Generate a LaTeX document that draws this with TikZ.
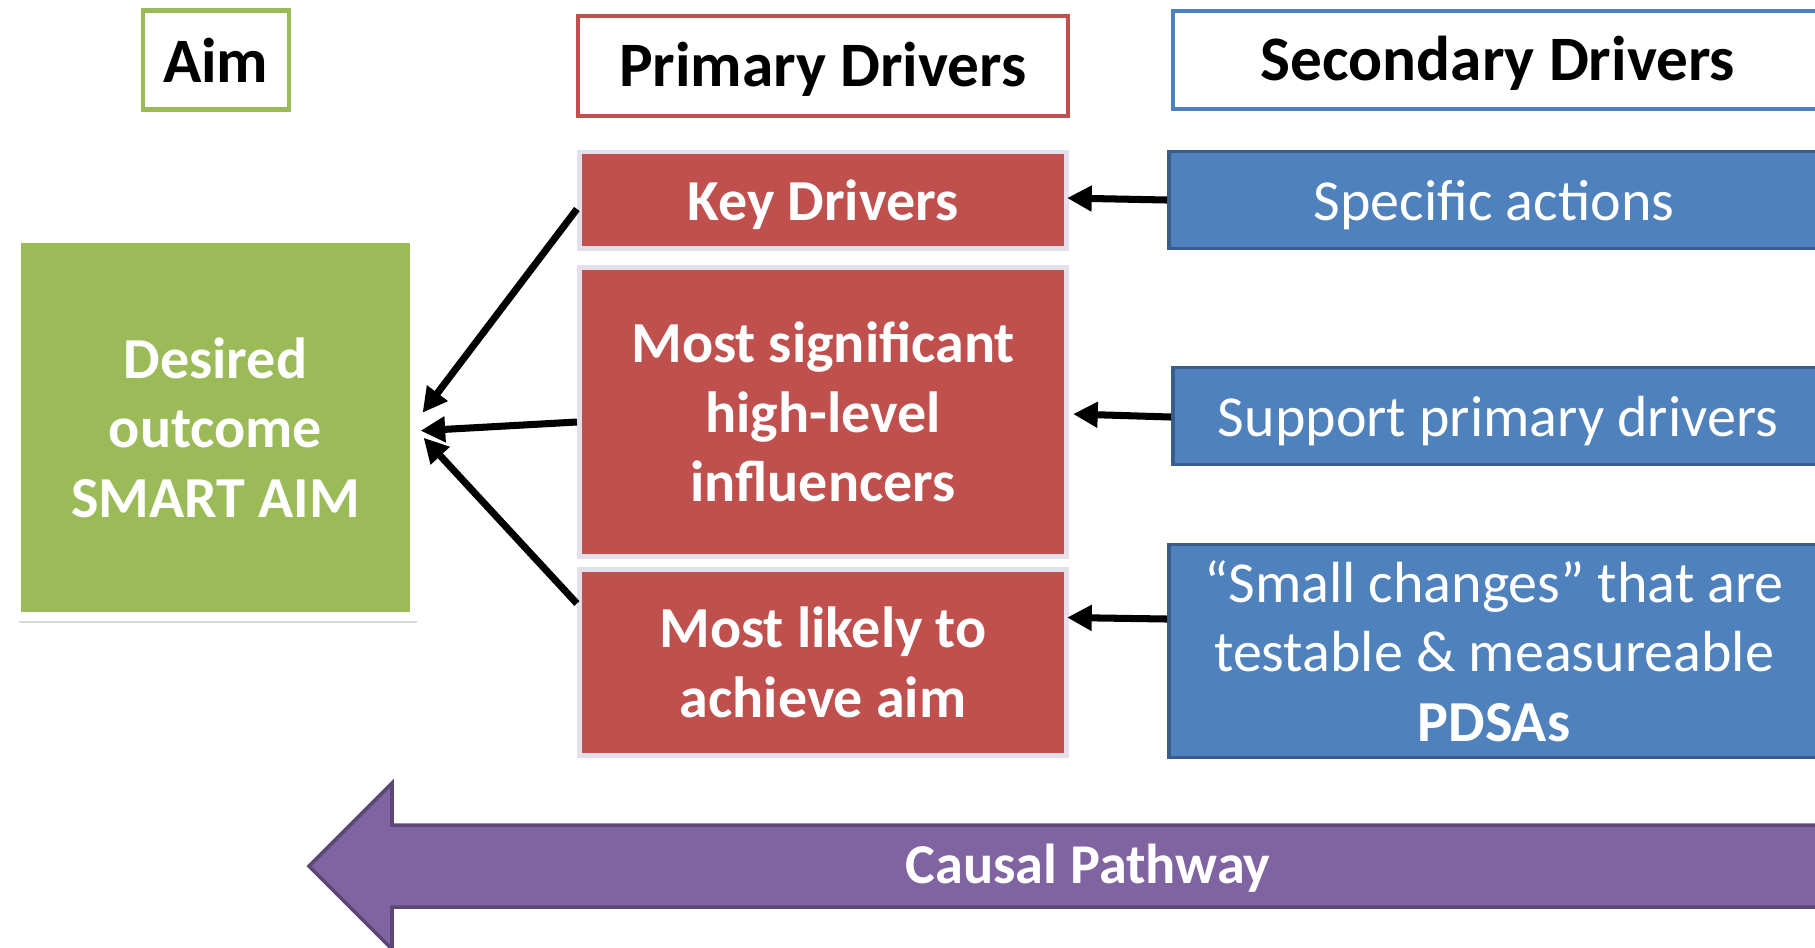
\documentclass[tikz,border=0pt]{standalone}
\usepackage{fontspec}
\setmainfont{Carlito}
\usetikzlibrary{calc,arrows.meta,shadows}
\definecolor{aimgreen}{HTML}{9BBB59}
\definecolor{drvred}{HTML}{C0504D}
\definecolor{redrim}{HTML}{E5DFEC}
\definecolor{drvblue}{HTML}{4F81BD}
\definecolor{bluerim}{HTML}{385D8A}
\definecolor{pathpurple}{HTML}{8064A2}
\definecolor{purplerim}{HTML}{5C4776}
\newcommand\headfont{\fontsize{18}{21.6}\selectfont\bfseries}
\newcommand\boxfont{\fontsize{16.5}{19.8}\selectfont}

\begin{document}
\begin{tikzpicture}[x=0.01cm,y=-0.01cm,
 hdbox/.style={draw,line width=1.2pt,fill=white,inner sep=0pt,text depth=0.1em,font=\headfont},
 primbox/.style={draw=redrim,line width=1.4pt,fill=drvred,text=white,align=center,
   inner sep=0pt,minimum width=4.87cm,font=\boxfont\bfseries},
 secbox/.style={draw=bluerim,line width=1pt,fill=drvblue,text=white,align=center,
   inner sep=0pt,minimum width=6.5cm,font=\boxfont},
 oneline/.style={text depth=0pt},
 link/.style={line width=2pt,-{Triangle[length=7pt,width=7pt]}}]
\clip (0,0) rectangle (1815,947);
\node[hdbox,oneline,draw=aimgreen,minimum width=1.46cm,minimum height=0.99cm] (aimhead) at (215.7,60) {Aim};
\node[hdbox,draw=drvred,minimum width=4.9cm,minimum height=1cm] (primhead) at (823,65.7) {Primary Drivers};
\node[hdbox,draw=drvblue,minimum width=6.5cm,minimum height=0.98cm] (sechead) at (1498,60) {Secondary Drivers};
\node[draw=white,line width=2.4pt,fill=aimgreen,text=white,align=center,inner sep=0pt,
  minimum width=3.975cm,minimum height=3.77cm,font=\boxfont\bfseries,
  drop shadow={shadow xshift=0.8pt,shadow yshift=-2pt,opacity=0.3}]
  (outcome) at (215.5,427.7) {Desired\\outcome\\SMART AIM};
\node[primbox,oneline,minimum height=0.96cm] (key) at (823,200) {Key Drivers};
\node[primbox,minimum height=2.89cm] (sig) at (823,412) {Most significant\\high-level\\influencers};
\node[primbox,minimum height=1.86cm] (likely) at (823,662.5) {Most likely to\\achieve aim};
\node[secbox,oneline,minimum height=0.97cm] (specific) at (1494,200) {Specific actions};
\node[secbox,oneline,minimum height=0.97cm] (support) at (1498,416) {Support primary drivers};
\node[secbox,minimum height=2.13cm] (small) at (1494,651) {“Small changes” that are\\testable \& measureable\\\textbf{PDSAs}};
\draw[link] ($(key.west)+(0,9)$) -- ($(outcome.east)+(4,-15)$);
\draw[link] ($(sig.west)+(0,10)$) -- ($(outcome.east)+(2,3)$);
\draw[link] ($(likely.west)+(0,-59)$) -- ($(outcome.east)+(5,10)$);
\draw[link] (specific.west) -- ($(key.east)+(-2,-2)$);
\draw[link] ($(support.west)+(0,1)$) -- ($(sig.east)+(4,2)$);
\draw[link] ($(small.west)+(0,-32)$) -- ($(likely.east)+(-2,-45)$);
\filldraw[fill=pathpurple,draw=purplerim,line width=1pt] (309,866) -- (392,783) -- (392,825)
  -- (1830,825) -- (1830,907) -- (392,907) -- (392,949) -- cycle;
\node[text=white,font=\fontsize{16}{19.2}\selectfont\bfseries] (pathway) at (1088,868) {Causal Pathway};
\end{tikzpicture}
\end{document}
